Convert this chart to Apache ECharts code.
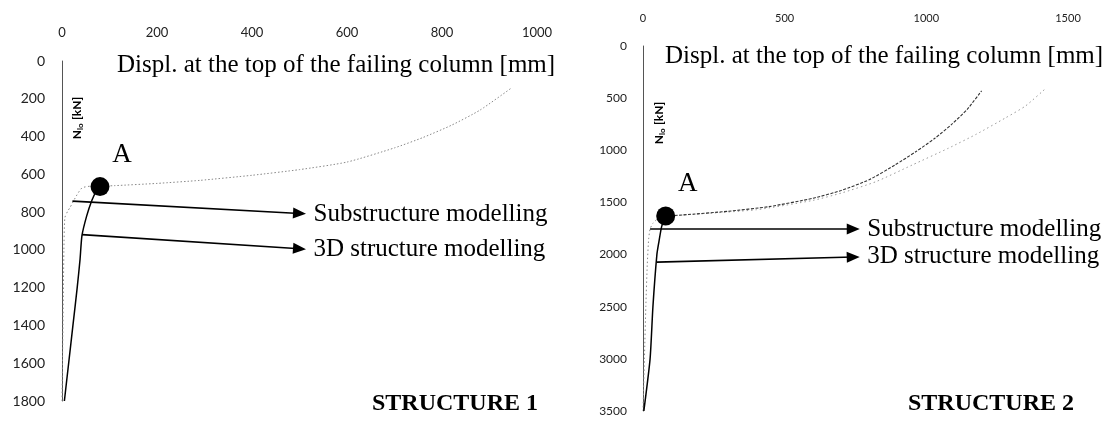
<!DOCTYPE html>
<html>
<head>
<meta charset="utf-8">
<script src="https://cdn.jsdelivr.net/npm/echarts@6/dist/echarts.min.js"></script>
<style>
html,body{margin:0;padding:0;background:#fff;}
#chart{width:1113px;height:421px;}
</style>
</head>
<body>
<div id="chart"></div>
<script>
// ---- Structure 1 data (displacement [mm], axial force [kN]) ----
const s1XTicks = [0, 1000, 200];          // min, max, interval
const s1YTicks = [0, 1800, 200];
const s1SubPre  = [[0,1800],[2,1400],[4,1000],[6,830],[12,795],[17,775],[30,715],[42,672],[60,663],[80,663]];
const s1SubPost = [[80,663],[110,660],[200,648],[290,632],[400,605],[500,575],[600,535],[700,460],[760,405],[820,340],[880,260],[945,145]];
const s1D3Pre   = [[5,1800],[14,1600],[23,1400],[32,1200],[38,1050],[42,925],[52,820],[63,737],[72,690],[80,665]];
const s1PointA  = [80,665];
const s1ArrowSub = [[22,742],[500,807]];
const s1Arrow3D  = [[42,919],[500,994]];

// ---- Structure 2 data ----
const s2XTicks = [0, 1500, 500];
const s2YTicks = [0, 3500, 500];
const s2SubPre  = [[0,3500],[5,3000],[10,2500],[15,2100],[20,1850],[25,1755],[35,1700],[55,1650],[80,1630]];
const s2SubPost = [[80,1630],[200,1610],[400,1570],[600,1480],[700,1410],[823,1300],[951,1140],[1078,980],[1177,845],[1279,690],[1350,575],[1420,410]];
const s2D3Pre   = [[3,3500],[25,3000],[35,2500],[49,2000],[56,1880],[66,1730],[80,1630]];
const s2D3Post  = [[80,1630],[140,1620],[300,1585],[445,1540],[600,1460],[700,1385],[800,1280],[890,1140],[965,1010],[1030,885],[1090,750],[1145,605],[1195,430]];
const s2PointA  = [80,1630];
const s2ArrowSub = [[25,1755],[742,1755]];
const s2Arrow3D  = [[49,2072],[742,2024]];

const labelSub = 'Substructure modelling';
const label3D  = '3D structure modelling';
const xTitle   = 'Displ. at the top of the failing column [mm]';

const serif = '"Liberation Serif", "DejaVu Serif", serif';
const sans  = 'Lato, "Open Sans", sans-serif';

function xAxis(idx, t, margin, fs) {
  return {
    type:'value', gridIndex: idx, position:'top', min:t[0], max:t[1], interval:t[2],
    axisLine:{show:false}, axisTick:{show:false}, splitLine:{show:false},
    axisLabel:{margin:margin, fontFamily:sans, fontSize:fs, color:'#222', formatter:v => String(v)}
  };
}
function yAxis(idx, t, margin, fs) {
  return {
    type:'value', gridIndex: idx, inverse:true, min:t[0], max:t[1], interval:t[2],
    axisLine:{show:true, lineStyle:{color:'#555', width:1}}, axisTick:{show:false}, splitLine:{show:false},
    axisLabel:{margin:margin, fontFamily:sans, fontSize:fs, color:'#222', formatter:v => String(v)}
  };
}
const dotted = {color:'#888', width:1, type:[1.5,2.5]};
const arrowMark = (a, b) => ({
  silent:true, animation:false,
  symbol:['none','triangle'], symbolSize:[11,13],
  lineStyle:{color:'#000', width:1.6, type:'solid'},
  label:{show:true, position:'end', formatter:'{b}', distance:14,
         fontFamily:serif, fontSize:25, color:'#000'},
  emphasis:{disabled:true},
  data:[
    [{coord:a[0], name:labelSub}, {coord:a[1]}],
    [{coord:b[0], name:label3D}, {coord:b[1]}]
  ]
});
const pointSeries = (idx, p) => ({
  type:'scatter', xAxisIndex:idx, yAxisIndex:idx, data:[p], symbolSize:19,
  itemStyle:{color:'#000', opacity:1}, silent:true, z:5,
  label:{show:true, formatter:'A', position:'top', offset:[22,-4],
         fontFamily:serif, fontSize:27, color:'#000'}
});
function line(idx, data, style, z) {
  return {type:'line', xAxisIndex:idx, yAxisIndex:idx, data:data, showSymbol:false,
          smooth:0.2, lineStyle:style, silent:true, z:z||2, animation:false};
}
const yName = (x, y) => ({type:'text', x:x, y:y, rotation:Math.PI/2, silent:true,
     style:{text:'{a|N}{b|lo} {a|[kN]}', textAlign:'center', textVerticalAlign:'middle',
            rich:{a:{fontFamily:sans, fontSize:12, fontWeight:'bold', fill:'#000', lineHeight:14},
                  b:{fontFamily:sans, fontSize:8, fontWeight:'bold', fill:'#000', lineHeight:14, verticalAlign:'bottom'}}}});
const txt = (x, y, text, font) => ({type:'text', x:x, y:y, silent:true,
     style:{text:text, font:font, fill:'#000', textAlign:'left', textVerticalAlign:'middle'}});

const chart = echarts.init(document.getElementById('chart'), null, {renderer:'canvas'});
chart.setOption({
  animation:false,
  grid:[
    {left:62, top:61, width:475, height:340},
    {left:643, top:46, width:425, height:365}
  ],
  xAxis:[ xAxis(0, s1XTicks, 22, 13), xAxis(1, s2XTicks, 22, 11) ],
  yAxis:[ yAxis(0, s1YTicks, 17, 14), yAxis(1, s2YTicks, 16, 12) ],
  series:[
    line(0, s1SubPre, dotted),
    line(0, s1SubPost, {color:'#888', width:1, type:[1.5,2]}),
    Object.assign(line(0, s1D3Pre, {color:'#000', width:1.5}, 3), {markLine: arrowMark(s1ArrowSub, s1Arrow3D)}),
    pointSeries(0, s1PointA),
    line(1, s2SubPre, dotted),
    line(1, s2SubPost, {color:'#999', width:1, type:[1.5,3]}),
    Object.assign(line(1, s2D3Pre, {color:'#000', width:1.5}, 3), {markLine: arrowMark(s2ArrowSub, s2Arrow3D)}),
    line(1, s2D3Post, {color:'#333', width:1.1, type:[3,1.5]}),
    pointSeries(1, s2PointA)
  ],
  graphic:[
    txt(117, 65, xTitle, '25px '+serif),
    txt(665, 56, xTitle, '25px '+serif),
    txt(372, 404, 'STRUCTURE 1', 'bold 24px '+serif),
    txt(908, 404, 'STRUCTURE 2', 'bold 24px '+serif),
    yName(77, 118),
    yName(659, 123)
  ]
});
</script>
</body>
</html>
